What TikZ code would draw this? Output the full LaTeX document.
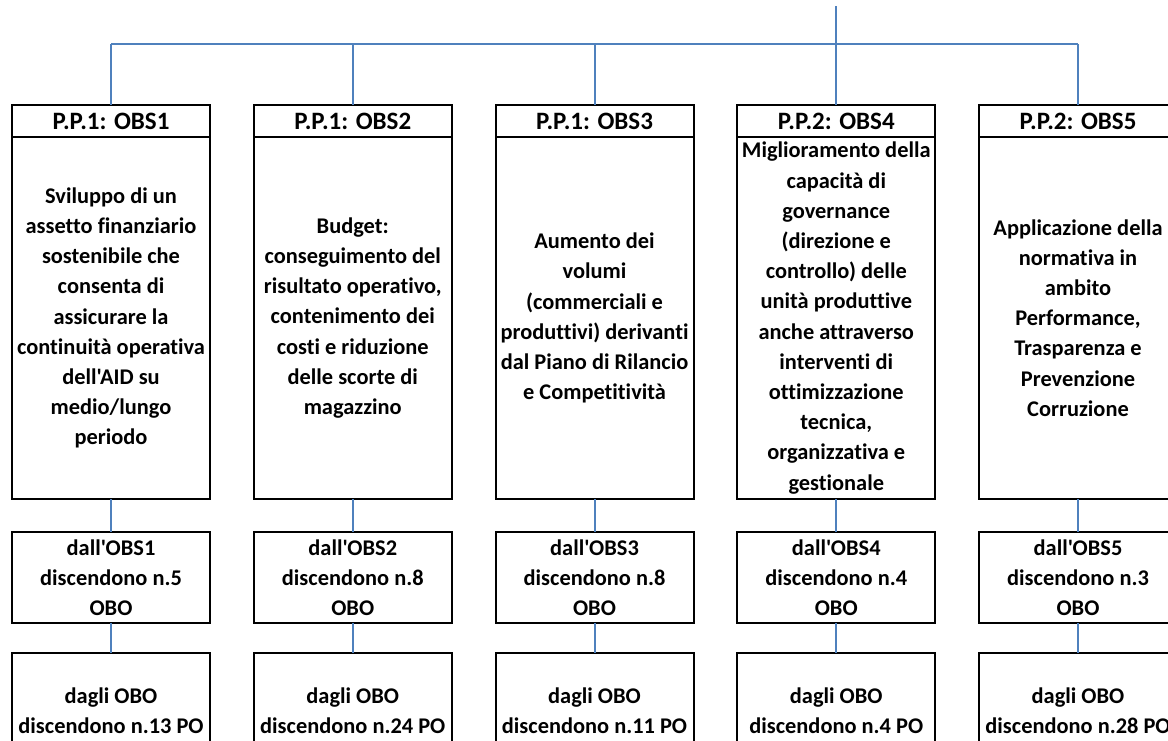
\documentclass[tikz,border=0pt]{standalone}
\usepackage{fontspec}
\setmainfont[Ligatures={TeXOff,NoCommon}]{Carlito}
\usetikzlibrary{positioning}

\definecolor{linkblue}{RGB}{79,129,189}

\begin{document}
\begin{tikzpicture}[
  x=0.5pt, y=-0.5pt,
  box/.style={draw, line width=1pt, outer sep=0pt, inner sep=0pt,
    minimum width=99pt, align=center, font=\bfseries\fontsize{11.2}{15.1}\selectfont},
  headbox/.style={box, minimum height=16pt, font=\bfseries\fontsize{12.5}{15}\selectfont},
  bodybox/.style={box, minimum height=181pt},
  obobox/.style={box, minimum height=45.5pt},
  pobox/.style={box, minimum height=58pt},
  link/.style={draw=linkblue, line width=1pt},
]

% --- Rahmen des Bildes (unten und rechts abgeschnitten) ---
\useasboundingbox (0,0) rectangle (1168,740);
\clip (0,0) rectangle (1168,740);

% --- fuenf Spalten: Kopf, Ziel, OBO, PO ---
\foreach \n/\hd/\txt/\mid/\bot [count=\i from 0] in {
  1/{P.P.1: OBS1}/{Sviluppo di un\\assetto finanziario\\sostenibile che\\consenta di\\assicurare la\\continuità operativa\\dell'AID su\\medio/lungo\\periodo}/{dall'OBS1\\discendono n.5\\OBO}/{dagli OBO\\discendono n.13 PO},
  2/{P.P.1: OBS2}/{Budget:\\conseguimento del\\risultato operativo,\\contenimento dei\\costi e riduzione\\delle scorte di\\magazzino}/{dall'OBS2\\discendono n.8\\OBO}/{dagli OBO\\discendono n.24 PO},
  3/{P.P.1: OBS3}/{Aumento dei\\volumi\\(commerciali e\\produttivi) derivanti\\dal Piano di Rilancio\\e Competitività}/{dall'OBS3\\discendono n.8\\OBO}/{dagli OBO\\discendono n.11 PO},
  4/{P.P.2: OBS4}/{Miglioramento della\\capacità di\\governance\\(direzione e\\controllo) delle\\unità produttive\\anche attraverso\\interventi di\\ottimizzazione\\tecnica,\\organizzativa e\\gestionale}/{dall'OBS4\\discendono n.4\\OBO}/{dagli OBO\\discendono n.4 PO},
  5/{P.P.2: OBS5}/{Applicazione della\\normativa in\\ambito\\Performance,\\Trasparenza e\\Prevenzione\\Corruzione}/{dall'OBS5\\discendono n.3\\OBO}/{dagli OBO\\discendono n.28 PO}} {
  \node[headbox] (head\n) at (111+241.75*\i,121) {\hd};
  \node[bodybox, below=0pt of head\n] (body\n) {\txt};
  \node[obobox, below=16.5pt of body\n] (obo\n) {\mid};
  \node[pobox, below=15pt of obo\n] (po\n) {\bot};
  \draw[link] (body\n) -- (obo\n);
  \draw[link] (obo\n) -- (po\n);
}

% --- Verteiler oben ---
\coordinate (bus) at (0,44);
\coordinate (root) at (head4.north |- 0,6);
\draw[link] (root) -- (root |- bus);
\draw[link] (head1.north |- bus) -- (head5.north |- bus);
\foreach \n in {1,...,5} {
  \draw[link] (head\n.north |- bus) -- (head\n.north);
}

\end{tikzpicture}
\end{document}
